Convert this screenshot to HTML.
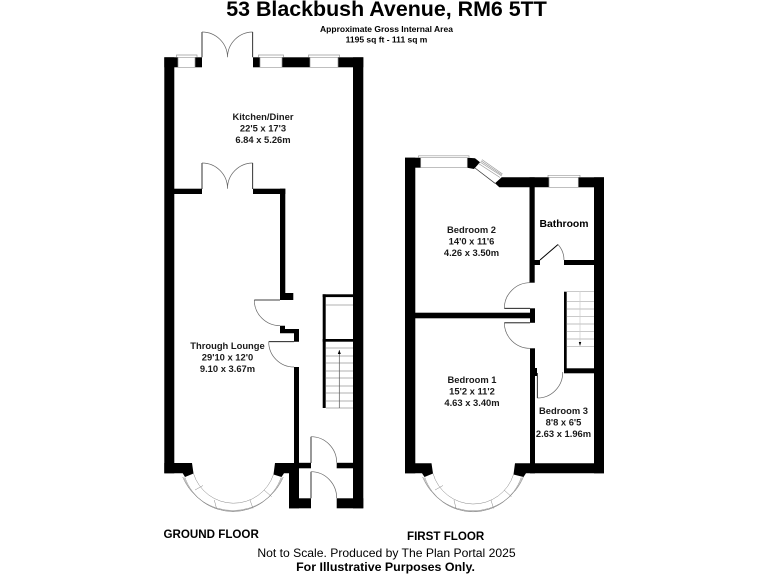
<!DOCTYPE html>
<html><head><meta charset="utf-8"><style>
html,body{margin:0;padding:0;background:#fff}
svg{display:block}
text{font-family:"Liberation Sans",sans-serif;text-anchor:middle;fill:#000}
.l{font-size:9.400px;font-weight:bold;fill:#1a1a1a}
.f{font-size:11.600px;font-weight:bold;text-anchor:start}
.t{fill:none;stroke:#666;stroke-width:.7}
.g{fill:none;stroke:#999;stroke-width:.7}
.k{fill:none;stroke:#000;stroke-width:.8}
</style></head><body>
<svg width="768" height="576" viewBox="0 0 768 576" xmlns="http://www.w3.org/2000/svg">
<text x="386.500" y="16" font-size="21.400" font-weight="bold">53 Blackbush Avenue, RM6 5TT</text>
<text x="386.500" y="32" font-size="8.500" font-weight="bold" fill="#222">Approximate Gross Internal Area</text>
<text x="386.500" y="42.500" font-size="8.500" font-weight="bold" fill="#222">1195 sq ft - 111 sq m</text>

<!-- GROUND FLOOR walls -->
<g fill="#000">
<rect x="164.300" y="57.300" width="13.700" height="10"/>
<rect x="195" y="57.300" width="7" height="10"/>
<rect x="253" y="57.300" width="7" height="10"/>
<rect x="282" y="57.300" width="28" height="10"/>
<rect x="338" y="57.300" width="25.300" height="10"/>
<rect x="164.300" y="57.300" width="10" height="416"/>
<rect x="353" y="57.300" width="10.300" height="451"/>
<rect x="174" y="188.700" width="28" height="5.300"/>
<rect x="253" y="188.700" width="32.300" height="5.300"/>
<rect x="280" y="188.700" width="5.300" height="111.300"/>
<rect x="280" y="293" width="13.300" height="7"/>
<polygon points="280,325.700 285,325.700 285,329 299,329 299,341.700 294,341.700 294,333.300 280,333.300"/>
<rect x="294" y="367" width="5" height="106"/>
<polygon points="164.300,463 192,463 193.500,473.500 185,477 182.700,473.300 164.300,473.300"/>
<polygon points="275,463 299,463 299,473.300 284,473.300 281.500,477 273.500,474.500"/>
<rect x="289" y="473" width="10" height="35.300"/>
<rect x="289" y="498.300" width="22" height="10"/>
<rect x="336.700" y="498.300" width="26.600" height="10"/>
<rect x="299" y="462.800" width="12" height="5.500"/>
<rect x="336.700" y="462.800" width="16.500" height="5.500"/>
<!-- stairs frame -->
<rect x="322.700" y="294.300" width="30.500" height="2.800"/>
<rect x="322.700" y="294.300" width="3" height="113.700"/>
<rect x="322.700" y="339" width="30.500" height="2.700"/>
</g>
<!-- windows ground -->
<g class="g">
<path d="M178 57.300V67.300H195V57.300Z M176.500 57.300V55H197V57.300"/>
<path d="M260 57.300V67.300H282V57.300Z M258.500 57.300V55H283.500V57.300"/>
<path d="M310 57.300V67.300H338V57.300Z M308.500 57.300V55H339.500V57.300"/>
</g>
<!-- doors ground -->
<g class="k">
<path d="M202 57.300V32 M252.700 57.300V32"/>
<path d="M202 189V163 M252.700 189V163"/>
<path d="M254.300 300H280"/>
<path d="M268.700 341.700H294"/>
<path d="M311 463V436.700 M311 498.300V471.700"/>
</g>
<g class="t">
<path d="M202 32A25.500 25.500 0 0 1 227.500 57.300A25.500 25.500 0 0 1 252.700 32"/>
<path d="M202 163A25.500 25.500 0 0 1 227.500 188.700A25.500 25.500 0 0 1 252.700 163"/>
<path d="M254.300 300A25.700 25.700 0 0 0 280 325.700"/>
<path d="M268.700 341.700A25.300 25.300 0 0 0 294 367"/>
<path d="M311 436.700A25.700 26 0 0 1 336.700 462.800"/>
<path d="M311 471.700A25.700 26.500 0 0 1 336.700 498.300"/>
</g>
<!-- ground stairs -->
<g class="g">
<path d="M326 305H353 M326 348H353"/>
<path d="M326 356H353 M326 363H353 M326 371H353 M326 378H353 M326 386H353 M326 393H353 M326 401H353 M326 408H353"/>
<path d="M339.300 350V408" stroke="#555"/>
</g>
<path d="M339.300 350l-1.500 4h3z" fill="#000"/>
<!-- ground bay -->
<g fill="none" stroke="#888" stroke-width=".5">
<path d="M193.500 473.500A42 42 0 0 0 273.500 474.500"/>
<path d="M184.900 477.500A51 51 0 0 0 281.100 477.500"/>
<path d="M183.800 477.500A52.700 52.700 0 0 0 282.200 477.500"/>
<path d="M182.700 477A54.500 54.500 0 0 0 283.300 477"/>
<path d="M195 490L203 485.500 M214.300 500L216.500 508.500 M250 500L253 508.500 M264 490L271.700 496.700"/>
</g>

<!-- FIRST FLOOR walls -->
<g fill="#000">
<rect x="405" y="157.700" width="15.700" height="10"/>
<rect x="405" y="157.700" width="10.300" height="315.600"/>
<polygon points="467.300,157.700 475,158.300 480,162.300 474,169 467.300,167.700"/>
<polygon points="501.700,177.300 549,177.300 549,187.300 499.300,187.300 495,183.300"/>
<rect x="578.300" y="177.300" width="25.700" height="10"/>
<rect x="594" y="177.300" width="10" height="296"/>
<rect x="529.500" y="177.300" width="5.200" height="105.400"/>
<rect x="530" y="260" width="10" height="5"/>
<rect x="564" y="260" width="30" height="5"/>
<rect x="415" y="312.700" width="115" height="5.600"/>
<rect x="530" y="308.300" width="5" height="14.500"/>
<rect x="530" y="348.300" width="5" height="125"/>
<rect x="564" y="368.300" width="30" height="5"/>
<rect x="564" y="291.700" width="2.700" height="77"/>
<polygon points="405,463.300 431.500,463.300 433,473.500 424.500,477 422,473.300 405,473.300"/>
<polygon points="515,463.300 604,463.300 604,473.300 526,473.300 523.500,477 513.500,474.500"/>
<rect x="535" y="368" width="2" height="8"/>
</g>
<!-- first windows -->
<g class="g">
<path d="M420.700 157.700V167.700H467.300V157.700Z M418.500 157.700V155.800H469V157.700"/>
<path d="M549 177.300V187.300H578.300V177.300Z M548 177.300V175.300H580V177.300"/>
<path d="M475 168L495 183.300" stroke="#333"/>
<path d="M480 162L501.700 176 M481 160.800L502 175 M482 159.600L502.500 174 M478.500 163.500L500 177.500"/>
</g>
<!-- first doors -->
<g class="k">
<path d="M540 260L558 244.500" stroke-width="1"/>
<path d="M504.300 308.300H530 M504.300 322.800H530"/>
<path d="M537.300 373V398"/>
</g>
<g class="t">
<path d="M558 244.500A23 23 0 0 1 564 260"/>
<path d="M504.300 308.300A25.700 25.700 0 0 1 530 282.700"/>
<path d="M504.300 322.800A25.700 25.700 0 0 0 530 348.300"/>
<path d="M537.300 398A25.500 25.500 0 0 0 562.700 372"/>
</g>
<g fill="none" stroke="#aaa" stroke-width=".7">
<path d="M566.700 291.700H594 M566.700 301.700H594 M566.700 309H594 M566.700 316.700H594 M566.700 324H594 M566.700 331.700H594 M566.700 339H594 M566.700 346.700H594"/>
<path d="M580 291.700V345" stroke="#ccc"/>
</g>
<path d="M580 346l-1.200-4h2.400z" fill="#000"/>
<!-- first bay -->
<g fill="none" stroke="#888" stroke-width=".5">
<path d="M433 473.500A42 42 0 0 0 513.500 474.500"/>
<path d="M424.800 477.500A51 51 0 0 0 521.200 477.500"/>
<path d="M423.700 477.500A52.700 52.700 0 0 0 522.300 477.500"/>
<path d="M422.600 477A54.500 54.500 0 0 0 523.400 477"/>
<path d="M435 490L443 485.500 M454 500L456 508.500 M491 500L493.500 508.500 M504 490L511.500 496.700"/>
</g>

<!-- Labels -->
<text class="l" x="263" y="120">Kitchen/Diner</text>
<text class="l" x="263" y="131.500">22'5 x 17'3</text>
<text class="l" x="263" y="143">6.84 x 5.26m</text>
<text class="l" x="227.500" y="349">Through Lounge</text>
<text class="l" x="227.500" y="360.500">29'10 x 12'0</text>
<text class="l" x="227.500" y="372">9.10 x 3.67m</text>
<text class="l" x="471.500" y="233">Bedroom 2</text>
<text class="l" x="471.500" y="244.500">14'0 x 11'6</text>
<text class="l" x="471.500" y="256">4.26 x 3.50m</text>
<text x="564" y="227" font-size="10.400" font-weight="bold" fill="#1a1a1a">Bathroom</text>
<text class="l" x="472" y="383">Bedroom 1</text>
<text class="l" x="472" y="394.500">15'2 x 11'2</text>
<text class="l" x="472" y="406">4.63 x 3.40m</text>
<text class="l" x="563.500" y="414">Bedroom 3</text>
<text class="l" x="563.500" y="425.500">8'8 x 6'5</text>
<text class="l" x="563.500" y="437">2.63 x 1.96m</text>
<text class="f" x="163.500" y="538">GROUND FLOOR</text>
<text class="f" x="407" y="540">FIRST FLOOR</text>
<text x="386.500" y="557" font-size="12.150" fill="#222">Not to Scale. Produced by The Plan Portal 2025</text>
<text x="385.500" y="571" font-size="12.400" font-weight="bold">For Illustrative Purposes Only.</text>
</svg>
</body></html>
